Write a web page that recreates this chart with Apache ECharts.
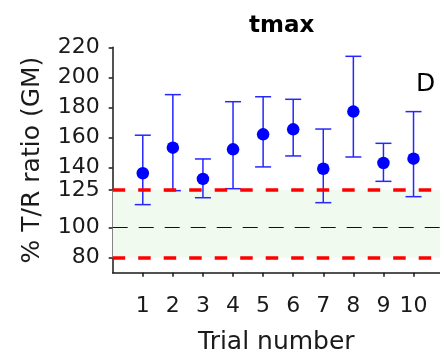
<!DOCTYPE html>
<html>
<head>
<meta charset="utf-8">
<script src="https://cdn.jsdelivr.net/npm/echarts@6/dist/echarts.min.js"></script>
<style>html,body{margin:0;padding:0;background:#fff}#main{width:440px;height:361px}</style>
</head>
<body>
<div id="main"></div>
<script>
var trials = [1, 2, 3, 4, 5, 6, 7, 8, 9, 10];
var gmRatio = [136.2, 153.2, 132.4, 152.1, 162.1, 165.4, 139.2, 177.2, 143, 145.9];
var ciLower = [115.3, 124.6, 119.9, 125.9, 140.4, 147.7, 116.6, 147, 130.8, 120.6];
var ciUpper = [161.5, 188.5, 145.7, 183.8, 187.1, 185.4, 165.6, 214, 156.1, 177.2];
var yTicks = [80, 100, 125, 140, 160, 180, 200, 220];
var bandLow = 80, bandHigh = 125, refLine = 100;

var font = 'DejaVu Sans';
var ink = '#1a1a1a';

var points = trials.map(function (t, i) { return [t, gmRatio[i]]; });
var bars = trials.map(function (t, i) { return [t, ciLower[i], ciUpper[i]]; });

var myChart = echarts.init(document.getElementById('main'));
myChart.setOption({
    animation: false,
    title: {
        text: 'tmax',
        left: 244,
        top: 10,
        textStyle: { fontFamily: font, fontSize: 23, fontWeight: 'bold', color: '#000' }
    },
    grid: { left: 112.7, right: 0, top: 47.3, bottom: 88.3, outerBoundsMode: 'none' },
    xAxis: {
        type: 'value',
        min: 0,
        max: 10.88,
        name: 'Trial number',
        nameLocation: 'middle',
        nameGap: 57,
        nameTextStyle: { fontFamily: font, fontSize: 25, color: ink },
        axisLine: { show: true, onZero: false, lineStyle: { color: ink, width: 1.5 } },
        axisTick: { show: true, length: 4, customValues: trials, lineStyle: { color: ink, width: 1.5 } },
        axisLabel: { customValues: trials, margin: 23, fontFamily: font, fontSize: 22, color: ink },
        splitLine: { show: false }
    },
    yAxis: {
        type: 'value',
        min: 70,
        max: 220,
        name: '% T/R ratio (GM)',
        nameLocation: 'middle',
        nameGap: 68,
        nameTextStyle: { fontFamily: font, fontSize: 25, color: ink },
        axisLine: { show: true, onZero: false, lineStyle: { color: ink, width: 1.5 } },
        axisTick: { show: true, length: 4, customValues: yTicks, lineStyle: { color: ink, width: 1.5 } },
        axisLabel: { customValues: yTicks, margin: 13, fontFamily: font, fontSize: 22, color: ink },
        splitLine: { show: false }
    },
    graphic: [{
        type: 'text',
        left: 416,
        top: 72,
        style: { text: 'D', fontFamily: font, fontSize: 25, fill: '#000' }
    }],
    series: [
        {
            // acceptance band and reference lines
            type: 'line',
            data: [],
            z: 1,
            markArea: {
                silent: true,
                itemStyle: { color: '#f1faee' },
                data: [[{ yAxis: bandLow }, { yAxis: bandHigh }]]
            },
            markLine: {
                silent: true,
                symbol: 'none',
                label: { show: false },
                data: [
                    { yAxis: refLine, lineStyle: { color: '#111', width: 1, type: [15, 11] } },
                    { yAxis: bandLow, lineStyle: { color: '#ff0000', width: 3.5, type: [12.5, 13] } },
                    { yAxis: bandHigh, lineStyle: { color: '#ff0000', width: 3.5, type: [12.5, 13] } }
                ]
            }
        },
        {
            type: 'custom',
            z: 2,
            data: bars,
            renderItem: function (params, api) {
                var lo = api.coord([api.value(0), api.value(1)]);
                var hi = api.coord([api.value(0), api.value(2)]);
                var w = 8;
                var st = { stroke: '#2626ff', lineWidth: 1.5 };
                return {
                    type: 'group',
                    children: [
                        { type: 'line', shape: { x1: lo[0], y1: lo[1], x2: hi[0], y2: hi[1] }, style: st },
                        { type: 'line', shape: { x1: lo[0] - w, y1: lo[1], x2: lo[0] + w, y2: lo[1] }, style: st },
                        { type: 'line', shape: { x1: hi[0] - w, y1: hi[1], x2: hi[0] + w, y2: hi[1] }, style: st }
                    ]
                };
            }
        },
        {
            type: 'scatter',
            z: 3,
            data: points,
            symbol: 'circle',
            symbolSize: 12.5,
            itemStyle: { color: '#0000ff', opacity: 1 }
        }
    ]
});
</script>
</body>
</html>
